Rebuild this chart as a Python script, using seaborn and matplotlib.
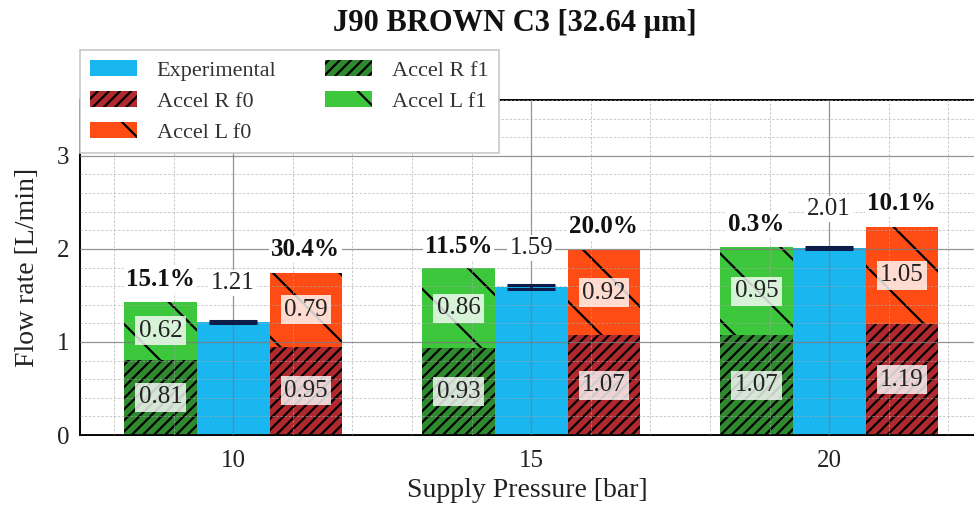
import numpy as np
import matplotlib
matplotlib.use("Agg")
import matplotlib.pyplot as plt
from matplotlib.patches import Patch
from matplotlib.ticker import MultipleLocator, FixedLocator
import seaborn as sns

# ---- data ----
pressures = [10, 15, 20]
experimental = [1.21, 1.59, 2.01]
experimental_err = [0.01, 0.02, 0.01]
accel_r_f0 = [0.95, 1.07, 1.19]
accel_l_f0 = [0.79, 0.92, 1.05]
accel_r_f1 = [0.81, 0.93, 1.07]
accel_l_f1 = [0.62, 0.86, 0.95]
err_f1 = ["15.1%", "11.5%", "0.3%"]
err_f0 = ["30.4%", "20.0%", "10.1%"]
series_labels = ["Experimental", "Accel R f0", "Accel L f0", "Accel R f1", "Accel L f1"]

# ---- style ----
DPI = 200
sns.set_theme(style="white")
plt.rcParams["font.family"] = ["Liberation Serif", "DejaVu Serif"]
plt.rcParams["hatch.linewidth"] = 0.8

C_EXP = "#1ab6f0"
C_RF0 = "#b0292e"
C_LF0 = "#ff4c14"
C_RF1 = "#2f8a2f"
C_LF1 = "#3cc73c"
H_R = "//////"
H_L = "\\"

fig = plt.figure(figsize=(974 / DPI, 518 / DPI), dpi=DPI)
ax = fig.add_axes([80 / 974, 1 - 435 / 518, 1 - 80 / 974, 335 / 518])

p = np.array(pressures, dtype=float)
bar_w = 1.22
rel_w = bar_w / 5.0

rf1 = np.array(accel_r_f1)
lf1 = np.array(accel_l_f1)
rf0 = np.array(accel_r_f0)
lf0 = np.array(accel_l_f0)
exp = np.array(experimental)
tot_f1 = rf1 + lf1
tot_f0 = rf0 + lf0


def bars(xs, hs, color, hatch):
    sns.barplot(x=xs, y=hs, native_scale=True, orient="x", width=rel_w,
                color=color, saturation=1, errorbar=None, hatch=hatch,
                edgecolor="black", linewidth=0, ax=ax)


# f1 stack (left), experimental (centre), f0 stack (right)
bars(p - bar_w, tot_f1, C_LF1, H_L)
bars(p - bar_w, rf1, C_RF1, H_R)
bars(p, exp, C_EXP, None)
bars(p + bar_w, tot_f0, C_LF0, H_L)
bars(p + bar_w, rf0, C_RF0, H_R)

ax.errorbar(p, exp, yerr=experimental_err, fmt="none", ecolor="#0b1d48",
            capsize=8.5, capthick=1.1, elinewidth=1.0, zorder=4)

seg_box = dict(boxstyle="square,pad=0.14", fc="white", ec="none", alpha=0.8)
top_box = dict(boxstyle="square,pad=0.08", fc="white", ec="none")
for i in range(len(p)):
    for x, bottom, v in [(p[i] - bar_w, 0, rf1[i]), (p[i] - bar_w, rf1[i], lf1[i]),
                         (p[i] + bar_w, 0, rf0[i]), (p[i] + bar_w, rf0[i], lf0[i])]:
        ax.text(x, bottom + v / 2, f"{v:.2f}", ha="center", va="center",
                fontsize=9, color="#222222", bbox=seg_box, zorder=5)
    ax.text(p[i], exp[i] + 0.42, f"{exp[i]:.2f}", ha="center", va="center",
            fontsize=9, color="#222222", bbox=top_box, zorder=5)
    ax.text(p[i] - bar_w, tot_f1[i] + 0.24, err_f1[i], ha="center", va="center",
            fontsize=9, fontweight="bold", color="#111111", bbox=top_box, zorder=5)
    ax.text(p[i] + bar_w, tot_f0[i] + 0.25, err_f0[i], ha="center", va="center",
            fontsize=9, fontweight="bold", color="#111111", bbox=top_box, zorder=5)

# ---- axes ----
ax.set_xlim(7.43, 22.43)
ax.set_ylim(0, 3.6)
ax.xaxis.set_major_locator(FixedLocator(pressures))
ax.xaxis.set_minor_locator(MultipleLocator(1))
ax.yaxis.set_major_locator(MultipleLocator(1))
ax.yaxis.set_minor_locator(MultipleLocator(0.2))
ax.set_xticklabels([str(v) for v in pressures])

ax.set_axisbelow(False)
ax.grid(which="major", color="#7a7a7a", linewidth=0.45, alpha=0.8)
ax.grid(which="minor", color="#a8a8a8", linewidth=0.3, linestyle=(0, (3, 2)), alpha=0.7)

ax.tick_params(axis="both", which="major", labelsize=9, length=3.5, width=0.5,
               direction="inout", color="black", labelcolor="#222222", pad=2)
ax.tick_params(axis="both", which="minor", length=2.0, width=0.4,
               direction="inout", color="#333333")
ax.tick_params(axis="x", which="both", direction="out")

for s in ["left", "bottom", "top"]:
    ax.spines[s].set_color("black")
    ax.spines[s].set_linewidth(0.7)
ax.spines["right"].set_visible(False)

ax.set_xlabel("Supply Pressure [bar]", fontsize=10, color="#222222", labelpad=2)
ax.set_ylabel("Flow rate [L/min]", fontsize=10, color="#222222", labelpad=6)

handles = [
    Patch(facecolor=C_EXP, edgecolor="black", linewidth=0, label=series_labels[0]),
    Patch(facecolor=C_RF0, edgecolor="black", linewidth=0, hatch=H_R, label=series_labels[1]),
    Patch(facecolor=C_LF0, edgecolor="black", linewidth=0, hatch=H_L, label=series_labels[2]),
    Patch(facecolor=C_RF1, edgecolor="black", linewidth=0, hatch=H_R, label=series_labels[3]),
    Patch(facecolor=C_LF1, edgecolor="black", linewidth=0, hatch=H_L, label=series_labels[4]),
]
leg = ax.legend(handles=handles, ncol=2, loc="upper left", bbox_to_anchor=(0.0, 1.149),
                fontsize=8, frameon=True, fancybox=False, edgecolor="#c8c8c8",
                framealpha=1, handlelength=2.1, handleheight=0.75, borderaxespad=0,
                columnspacing=2.2, labelspacing=0.45, handletextpad=0.9,
                borderpad=0.45, labelcolor="#333333")
leg.get_frame().set_linewidth(0.6)
leg.set_zorder(10)

fig.text(515 / 974, 1 - 24 / 518, "J90 BROWN C3 [32.64 μm]", fontsize=11,
         fontweight="bold", ha="center", va="center", color="#111111")

fig.savefig("out.png", dpi=DPI)
